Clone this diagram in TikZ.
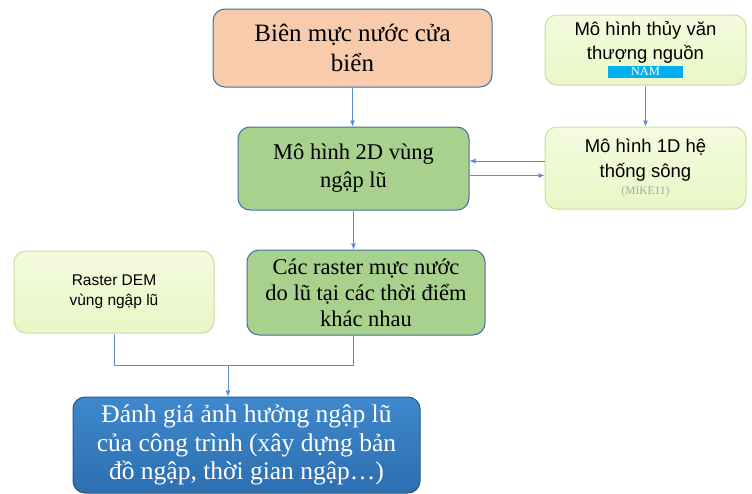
\documentclass[tikz,border=0pt]{standalone}
\usepackage{fontspec}
\setmainfont{Liberation Serif}
\newfontfamily\sansvn{Liberation Sans}
\usetikzlibrary{arrows.meta}
\definecolor{peach}{HTML}{F8CBAD}
\definecolor{leaf}{HTML}{A9D18E}
\definecolor{paleleaf}{HTML}{EAF6C6}
\definecolor{paleleaftop}{HTML}{F4FBDF}
\definecolor{paleedge}{HTML}{C6DF9C}
\definecolor{steel}{HTML}{41719C}
\definecolor{linkblue}{HTML}{5B8BD0}
\definecolor{deepblue}{HTML}{2E6FB0}
\definecolor{deepbluetop}{HTML}{3E88CC}
\definecolor{tagcyan}{HTML}{00B0F0}

\begin{document}
\begin{tikzpicture}[x=1pt,y=1pt,
	box/.style={draw=steel,line width=1pt,rounded corners=12pt,inner sep=0pt,align=center},
	softbox/.style={draw=paleedge,line width=1pt,rounded corners=12pt,inner sep=0pt,align=center,
		top color=paleleaftop,bottom color=paleleaf},
	link/.style={draw=linkblue,line width=0.8pt},
	linkarrow/.style={link,-{Latex[length=6pt,width=5pt]}}]
	\useasboundingbox (0,0) rectangle (752,-493);
	\node[box,fill=peach,minimum width=279,minimum height=78,font=\fontsize{25}{30}\selectfont] (sea) at (352.5,-48)
		{Biên mực nước cửa\\biển};
	\node[box,fill=leaf,minimum width=231,minimum height=83,font=\fontsize{22.5}{28}\selectfont] (twod) at (353.5,-168.5)
		{Mô hình 2D vùng\\ngập lũ};
	\node[softbox,minimum width=201,minimum height=70,font=\sansvn\fontsize{18.5}{24}\selectfont] (nam) at (645.5,-50)
		{Mô hình thủy văn\\
		thượng nguồn\\[-8pt]
		{\setlength{\fboxsep}{0pt}\colorbox{tagcyan}{\makebox[75pt]{\rmfamily\fontsize{12.5}{12}\selectfont\textcolor{white}{NAM}\rule[-2pt]{0pt}{12pt}}}}};
	\node[softbox,minimum width=201,minimum height=82,font=\sansvn\fontsize{18.5}{25}\selectfont] (oned) at (645.5,-168)
		{Mô hình 1D hệ\\
		thống sông\\[-8pt]
		{\rmfamily\fontsize{11.5}{12}\selectfont\textcolor{gray!70}{(MIKE11)}}};
	\node[softbox,minimum width=200,minimum height=82,font=\sansvn\fontsize{15.5}{20}\selectfont] (dem) at (114,-292)
		{Raster DEM\\vùng ngập lũ};
	\node[box,fill=leaf,minimum width=238,minimum height=85,font=\fontsize{22.5}{26}\selectfont] (raster) at (366,-292.5)
		{Các raster mực nước\\do lũ tại các thời điểm\\khác nhau};
	\node[box,draw=deepblue!80!black,top color=deepbluetop,bottom color=deepblue,text=white,
		minimum width=347,minimum height=96,font=\fontsize{25.5}{28.5}\selectfont] (impact) at (246.5,-445)
		{Đánh giá ảnh hưởng ngập lũ\\của công trình (xây dựng bản\\đồ ngập, thời gian ngập…)};
	\coordinate (merge) at (228,-365);
	\draw[linkarrow] (sea.south) -- (sea.south |- twod.north);
	\draw[linkarrow] (nam.south) -- (oned.north);
	\draw[linkarrow] ([yshift=7]oned.west) -- ([yshift=7]oned.west -| twod.east);
	\draw[linkarrow] ([yshift=-7]twod.east) -- ([yshift=-7]twod.east -| oned.west);
	\draw[linkarrow] (twod.south) -- (twod.south |- raster.north);
	\draw[link] (dem.south) -- (dem.south |- merge) -- (twod.south |- merge) -- (twod.south |- raster.south);
	\draw[linkarrow] (merge) -- (merge |- impact.north);
\end{tikzpicture}
\end{document}
